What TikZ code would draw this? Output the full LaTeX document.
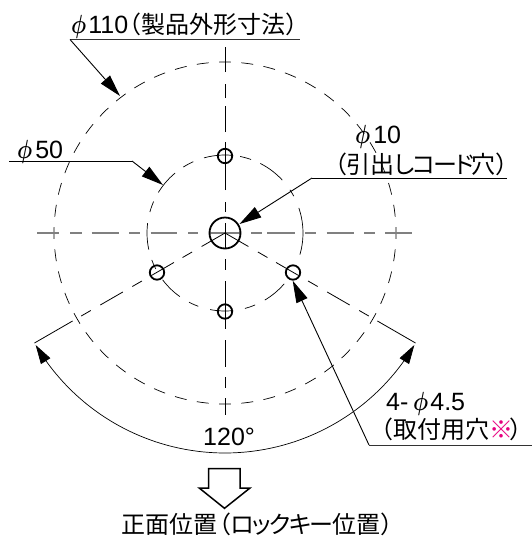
\documentclass[tikz,border=0pt]{standalone}
\usepackage{fontspec}
\usepackage{fix-cm}
\usetikzlibrary{arrows.meta,calc}
\setmainfont{Liberation Sans}
\newfontfamily\jp{Noto Sans CJK JP}[Scale=0.96]
\newfontfamily\jpk{Noto Sans CJK JP}[Scale=0.96,RawFeature=+palt]
\definecolor{pinkmark}{RGB}{230,0,126}
\newcommand{\lpar}{\kern-10pt （}
\newcommand{\phisym}{\scalebox{0.85}[1.05]{\boldmath$\phi$}\kern2pt}
\newcommand{\kna}{\kern-2pt}
\tikzset{
  lbl/.style={anchor=base west,inner sep=0pt,font=\fontsize{25}{29}\selectfont},
  thinline/.style={line width=0.7pt,black},
  centerl/.style={line width=0.8pt,black},
  hcenter/.style={line width=1.7pt,black!50},
  hole/.style={line width=1.8pt,black},
  leader/.style={line width=0.9pt,-{Triangle[length=22pt,width=12pt]}},
  shelf/.style={line width=1pt,black!80},
  blockarrow/.style={line width=1.5pt,black,fill=white,line join=miter}
}
\begin{document}
\begin{tikzpicture}[x=1pt,y=-1pt]
\useasboundingbox (0,0) rectangle (532,536);
\coordinate (c) at (225,233);
\coordinate (ht) at (225,156);
\coordinate (hb) at (225,311.5);
\coordinate (hl) at (157,272.5);
\coordinate (hr) at (293,272.5);
% big dashed circle
\foreach \a in {0,7.5,...,352.5}{
  \draw[thinline] plot[smooth,domain=\a-2:\a+2,samples=4] ({225+171*cos(\x)},{233+171*sin(\x)});
}
% phi50 circle, broken into its arcs
\foreach \s/\e in {-78.8/-70.5,-63.1/-42.7,-33.6/-28.2,-18.8/16.1,40.7/59.3,67.3/75.2,84/101,110/117.4,125.4/143.2,152.6/159.8,167.7/187.3,195.6/203.8,211.4/230.2,237.7/246,254.4/276}{
  \draw[thinline] plot[smooth,domain=\s:\e,samples=8] ({225+78*cos(\x)},{233+78*sin(\x)});
}
% centre lines
\foreach \s/\e in {37.3/59.3,70/82,91.7/118.7,129/140,150.7/177,188/198,209/240,251/262,267.3/295,305/316,326.7/353.7,364.3/375,385/412}{
  \draw[hcenter] (\s,233) -- (\e,233);
}
\foreach \s/\e in {0/10,21/31,43/91,101/127,135/149,161/186}{
  \draw[centerl] ($(c)+(0,-\s)$) -- ($(c)+(0,-\e)$);
}
\foreach \s/\e in {0/16,26/37,48/96,107/134,144/155,165/182}{
  \draw[centerl] ($(c)+(0,\s)$) -- ($(c)+(0,\e)$);
}
\foreach \ang in {30,150}{
  \foreach \s/\e in {0/27,38/49,59/85,96/107,118/144,155/166,176/220}{
    \draw[centerl] ($(c)+(\ang:\s)$) -- ($(c)+(\ang:\e)$);
  }
}
% holes
\draw[hole] (c) circle[radius=15.5];
\foreach \h in {ht,hb,hl,hr}{\draw[hole] (\h) circle[radius=7.2];}
% shelves and leaders
\coordinate (s110a) at (70,39.5);
\coordinate (s110b) at (300,39.5);
\coordinate (t110) at (120,96);
\draw[shelf] (s110a) -- (s110b);
\draw[leader] (s110a) -- (t110);
\coordinate (s50a) at (9,161);
\coordinate (s50b) at (132,161);
\coordinate (t50) at (163,185);
\draw[thinline] (s50a) -- (s50b);
\draw[leader] (s50b) -- (t50);
\coordinate (s10a) at (507,178);
\coordinate (s10b) at (312,178);
\coordinate (t10) at (239.5,224);
\draw[thinline] (s10a) -- (s10b);
\draw[leader] (s10b) -- (t10);
\coordinate (s45a) at (532,445);
\coordinate (s45b) at (369,445);
\coordinate (t45) at (292.7,280.7);
\draw[shelf] (s45a) -- (s45b);
\draw[leader] (s45b) -- (t45);
% angle arc
\draw[thinline,{Triangle[length=19pt,width=11pt]}-{Triangle[length=19pt,width=11pt]}]
  plot[smooth,domain=149.4:30.6,samples=30] ({225+220*cos(\x)},{233+220*sin(\x)});
% block arrow
\draw[blockarrow] (208.7,468.6) -- (240.2,468.6) -- (240.2,488) -- (250,488) -- (224.5,508.3) -- (199.2,488) -- (208.7,488) -- cycle;
% labels
\node[lbl] (l110) at (71,33.3) {\phisym 110\jp\kern-1pt\lpar 製品外形寸法）};
\node[lbl] (l50) at (17,158) {\phisym\kern1pt 50};
\node[lbl] (l10) at (355,143.3) {\phisym\kern1pt 10};
\node[lbl] (l10b) at (334,173) {\jpk （\jp 引出\jpk し\kna コ\kna ー\kna ド\kna\jp 穴\jpk ）};
\node[lbl] (l45) at (386,410) {4-\kern4.8pt\phisym 4.5};
\node[lbl] (l45b) at (369,438) {\jp （取付用穴\textcolor{pinkmark}{※}\kern-4pt ）};
\node[lbl] (l120) at (203,445) {120°};
\node[lbl] (lfront) at (121,533) {\jp 正面位置\lpar\jpk ロ\kna ッ\kna ク\kna キ\kna ー\kern-1pt\jp 位置）};
\end{tikzpicture}
\end{document}
